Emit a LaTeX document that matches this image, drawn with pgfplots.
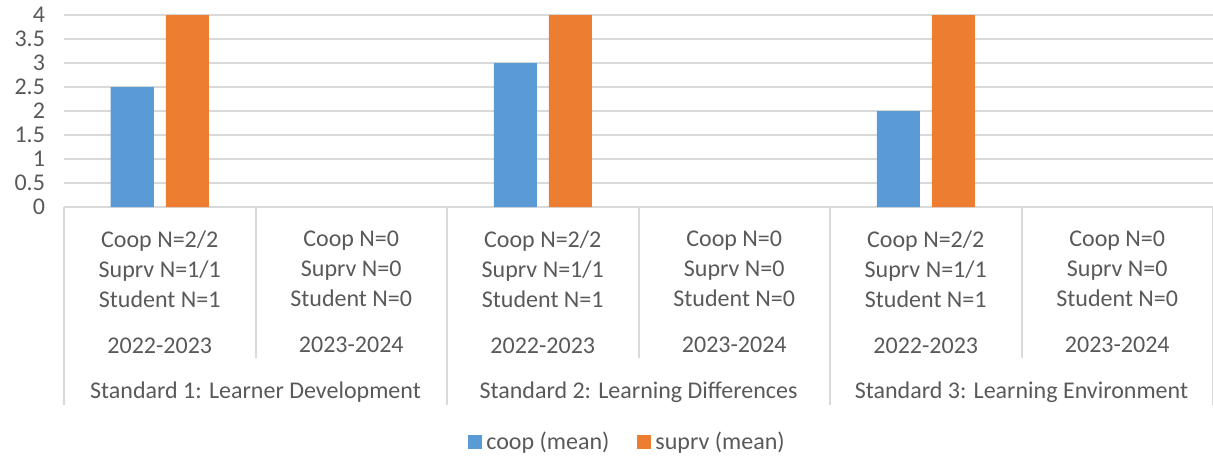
\documentclass[border=0pt]{standalone}
\usepackage{fontspec}
\setmainfont{Carlito}
\usepackage{pgfplots}
\pgfplotsset{compat=1.18}
\definecolor{cblue}{HTML}{5B9BD5}
\definecolor{corange}{HTML}{ED7D31}
\definecolor{tgray}{HTML}{595959}
\definecolor{lgray}{HTML}{D9D9D9}
\begin{document}
\begin{tikzpicture}[font=\fontsize{12}{14.5}\selectfont]
\begin{axis}[
  name=ax, scale only axis, width=574.5pt, height=96pt,
  xmin=-0.5, xmax=5.5, ymin=0, ymax=4,
  ytick={0,0.5,...,4}, ymajorgrids, grid style={lgray, line width=1pt},
  axis line style={draw=none}, major tick length=0pt,
  /pgf/number format/assume math mode=true,
  tick label style={text=tgray},
  yticklabel style={xshift=-6pt},
  xtick={0,...,5},
  xticklabels={
    {Coop N=2/2\\Suprv N=1/1\\Student N=1\\[8pt]2022-2023},
    {Coop N=0\\Suprv N=0\\Student N=0\\[8pt]2023-2024},
    {Coop N=2/2\\Suprv N=1/1\\Student N=1\\[8pt]2022-2023},
    {Coop N=0\\Suprv N=0\\Student N=0\\[8pt]2023-2024},
    {Coop N=2/2\\Suprv N=1/1\\Student N=1\\[8pt]2022-2023},
    {Coop N=0\\Suprv N=0\\Student N=0\\[8pt]2023-2024}},
  xticklabel style={align=center, anchor=north, yshift=-8.5pt,
    font=\fontsize{12}{15}\selectfont},
  clip=false,
  legend style={draw=none, at={(0.5,0)}, anchor=center, yshift=-117.5pt,
    xshift=-5pt, legend columns=2, text=tgray,
    /tikz/every even column/.append style={column sep=12pt}},
  legend image code/.code={\fill[#1] (0pt,-3.5pt) rectangle (7pt,3.5pt);},
]
\addplot[ybar, bar width=21.5pt, bar shift=-13.75pt, fill=cblue, draw=none]
  coordinates {(0,2.5) (2,3) (4,2)};
\addplot[ybar, bar width=21.5pt, bar shift=13.75pt, fill=corange, draw=none]
  coordinates {(0,4) (2,4) (4,4)};
\legend{coop (mean), suprv (mean)}
\draw[lgray, line width=1pt] (axis cs:-0.5,0) -- ([yshift=-99pt]axis cs:-0.5,0);
\draw[lgray, line width=1pt] (axis cs:1.5,0) -- ([yshift=-99pt]axis cs:1.5,0);
\draw[lgray, line width=1pt] (axis cs:3.5,0) -- ([yshift=-99pt]axis cs:3.5,0);
\draw[lgray, line width=1pt] (axis cs:5.5,0) -- ([yshift=-99pt]axis cs:5.5,0);
\draw[lgray, line width=1pt] (axis cs:0.5,0) -- ([yshift=-75.5pt]axis cs:0.5,0);
\draw[lgray, line width=1pt] (axis cs:2.5,0) -- ([yshift=-75.5pt]axis cs:2.5,0);
\draw[lgray, line width=1pt] (axis cs:4.5,0) -- ([yshift=-75.5pt]axis cs:4.5,0);
\node[text=tgray, yshift=-92.5pt] at (axis cs:0.5,0) {Standard 1: Learner Development};
\node[text=tgray, yshift=-92.5pt] at (axis cs:2.5,0) {Standard 2: Learning Differences};
\node[text=tgray, yshift=-92.5pt] at (axis cs:4.5,0) {Standard 3: Learning Environment};
\end{axis}
\pgfresetboundingbox
\path[use as bounding box] ([xshift=-32pt,yshift=-125.5pt]ax.south west) rectangle ([yshift=7.5pt]ax.north east);
\end{tikzpicture}
\end{document}
